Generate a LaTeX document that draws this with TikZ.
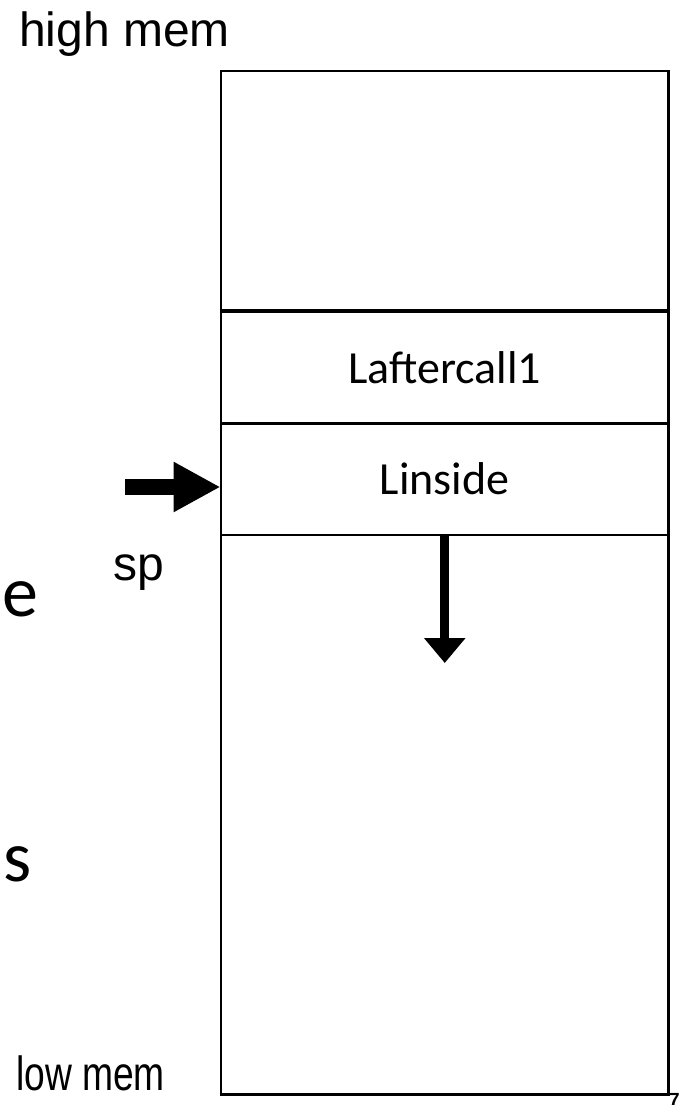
\documentclass[tikz,border=0pt]{standalone}
\usepackage{fontspec}
\setmainfont{Liberation Sans}
\newfontfamily\calib{Carlito}
\usetikzlibrary{arrows.meta}
\begin{document}
\begin{tikzpicture}[x=1pt,y=-1pt,
  cell/.style={draw, line width=2.7pt, inner sep=0pt, outer sep=0pt,
    minimum width=447.5pt, font=\calib\fontsize{46}{50}\selectfont},
  arial/.style={inner sep=0pt, anchor=base west, font=\fontsize{48}{52}\selectfont},
  big/.style={inner sep=0pt, anchor=base west, font=\calib\fontsize{72}{76}\selectfont},
  fat/.style={line width=16pt, -{Triangle[length=47pt,width=47pt]}},
  thin/.style={line width=8.7pt, -{Triangle[length=25pt,width=40pt]}}]
\clip (0,0) rectangle (681,1105);
\useasboundingbox (0,0) rectangle (681,1105);
% stack cells
\node[cell, minimum height=239.5pt] (top) at (444.75,190.75) {};
\node[cell, minimum height=112.5pt] (after) at (444.75,367.5) {Laftercall1};
\node[cell, minimum height=112pt] (inside) at (444.75,479) {Linside};
\node[cell, minimum height=559.5pt] (bottom) at (444.75,814.75) {};
% labels
\node[arial] (high) at (19,47) {high mem};
\node[arial] (sp) at (113,580) {sp};
\node[arial, xscale=0.775] (low) at (16,1090) {low mem};
\node[big] (e) at (2,616) {e};
\node[big] (s) at (3,881) {s};
\node[inner sep=0pt, anchor=north west, font=\bfseries\fontsize{19}{21}\selectfont] (num) at (669,1093) {7};
% arrows
\coordinate (sptail) at (125,487);
\coordinate (sphead) at (220.5,487);
\draw[fat] (sptail) -- (sphead);
\coordinate (downtip) at (444.75,663);
\draw[thin] (inside.south) -- (downtip);
\end{tikzpicture}
\end{document}
